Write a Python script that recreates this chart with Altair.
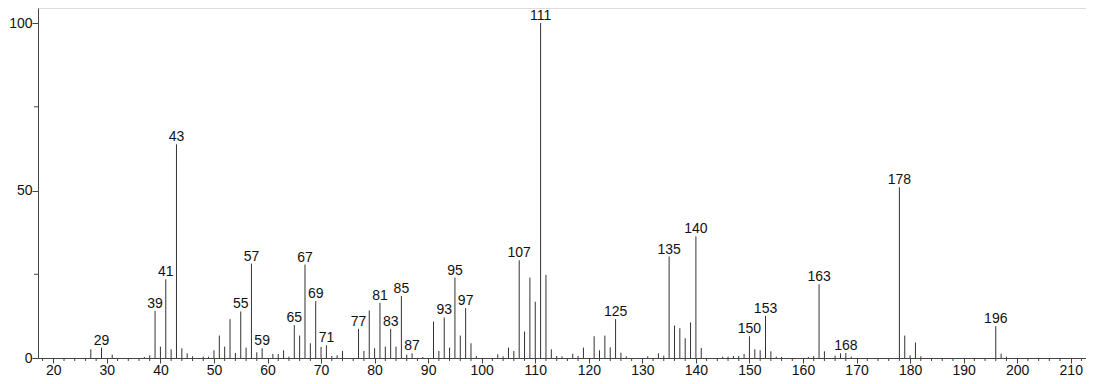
import altair as alt
import pandas as pd

# m/z values and relative intensities (%)
mz = [27, 29, 31, 37, 38, 39, 40, 41, 42, 43, 44, 45, 46, 48, 49, 50, 51, 52, 53, 54,
      55, 56, 57, 58, 59, 61, 62, 63, 64, 65, 66, 67, 68, 69, 70, 71, 72, 73, 74, 77,
      78, 79, 80, 81, 82, 83, 84, 85, 86, 87, 89, 91, 92, 93, 94, 95, 96, 97, 98, 99,
      103, 104, 105, 106, 107, 108, 109, 110, 111, 112, 113, 114, 115, 117, 118, 119,
      121, 122, 123, 124, 125, 126, 127, 131, 133, 134, 135, 136, 137, 138, 139, 140,
      141, 145, 146, 147, 148, 149, 150, 151, 152, 153, 154, 155, 156, 161, 162, 163,
      164, 166, 167, 168, 169, 178, 179, 180, 181, 182, 196, 197, 198]
intensity = [2.6, 3.1, 1.0, 0.3, 0.8, 14.1, 3.4, 23.5, 2.6, 63.8, 2.9, 1.4, 0.5, 0.4, 0.4,
             2.3, 6.7, 3.4, 11.6, 1.5, 13.9, 3.1, 28.2, 1.7, 2.9, 1.2, 1.2, 2.3, 0.4, 9.8,
             6.7, 27.9, 4.4, 17.0, 3.3, 3.8, 0.6, 0.8, 2.1, 8.7, 2.1, 14.2, 2.9, 16.5, 3.4,
             8.7, 3.4, 18.5, 1.0, 1.4, 0.3, 10.9, 2.1, 12.1, 3.1, 24.0, 6.7, 14.9, 4.4, 0.6,
             1.1, 0.5, 3.1, 2.1, 29.2, 7.9, 24.0, 16.8, 100.0, 24.8, 2.6, 0.6, 0.5, 1.3,
             0.6, 3.1, 6.5, 2.3, 6.7, 3.2, 11.6, 1.6, 0.5, 0.5, 1.4, 0.7, 30.3, 9.7, 8.9,
             5.9, 10.6, 36.3, 3.0, 0.4, 0.4, 0.6, 0.6, 1.2, 6.5, 2.6, 2.3, 12.6, 2.0, 0.4,
             0.3, 0.3, 0.6, 22.0, 2.0, 0.7, 1.4, 1.5, 0.4, 51.0, 6.7, 0.8, 4.6, 0.5, 9.5,
             1.3, 0.4]
labeled = [29, 39, 41, 43, 55, 57, 59, 65, 67, 69, 71, 77, 81, 83, 85, 87, 93, 95, 97,
           107, 111, 125, 135, 140, 150, 153, 163, 168, 178, 196]
x_major_ticks = [20, 30, 40, 50, 60, 70, 80, 90, 100, 110, 120, 130, 140, 150, 160,
                 170, 180, 190, 200, 210]
x_minor_ticks = [18, 22, 24, 26, 28, 32, 34, 36, 38, 42, 44, 46, 48, 52, 54, 56, 58, 62,
                 64, 66, 68, 72, 74, 76, 78, 82, 84, 86, 88, 92, 94, 96, 98, 102, 104, 106,
                 108, 112, 114, 116, 118, 122, 124, 126, 128, 132, 134, 136, 138, 142, 144,
                 146, 148, 152, 154, 156, 158, 162, 164, 166, 168, 172, 174, 176, 178, 182,
                 184, 186, 188, 192, 194, 196, 198, 202, 204, 206, 208, 212]
y_major_ticks = [0, 50, 100]
y_minor_ticks = [25, 75]

FONT = "Liberation Sans"
AX = "#444444"
BAR = "#333333"

W, H = 1048, 350
PAD_L, PAD_B = 30, 18

df = pd.DataFrame({"mz": mz, "intensity": intensity})
df["label"] = df["mz"].astype(str)
lab_df = df[df["mz"].isin(labeled)].reset_index(drop=True)

xs = alt.Scale(domain=[17.14, 212.85], nice=False, zero=False)
ys = alt.Scale(domain=[0, 104.5], nice=False)

xaxis = alt.Axis(values=x_major_ticks, title=None, tickSize=5, labelPadding=11,
                 labelBaseline="alphabetic", labelFontSize=14, labelFont=FONT,
                 labelColor="#111111", domainColor=AX, tickColor=AX, grid=False,
                 labelFlush=False, labelOverlap=False)
yaxis = alt.Axis(values=y_major_ticks, title=None, tickSize=6, labelPadding=0,
                 labelFontSize=14, labelFont=FONT, labelColor="#111111",
                 domainColor=AX, tickColor=AX, grid=False, labelFlush=False)

X = alt.X("mz:Q", scale=xs, axis=xaxis)
Y = alt.Y("intensity:Q", scale=ys, axis=yaxis)

bars = alt.Chart(df).mark_rule(color=BAR, strokeWidth=1).encode(
    x=X, y=Y, y2=alt.datum(0)
)

labels = alt.Chart(lab_df).mark_text(
    baseline="alphabetic", align="center", dy=-3, fontSize=14, font=FONT, color="#111111"
).encode(x=X, y=Y, text="label:N")

xminor = alt.Chart(pd.DataFrame({"mz": x_minor_ticks})).mark_rule(
    color=AX, strokeWidth=1
).encode(x=X, y=alt.value(H), y2=alt.value(H + 3))

yminor = alt.Chart(pd.DataFrame({"intensity": y_minor_ticks})).mark_rule(
    color=AX, strokeWidth=1
).encode(y=Y, x=alt.value(0), x2=alt.value(-4))

chart = alt.layer(bars, xminor, yminor, labels).properties(
    width=W, height=H,
    autosize="none",
    padding={"left": PAD_L, "top": 0, "right": 0, "bottom": PAD_B},
).configure_view(stroke=None).configure(background="white")

chart.save("out.html", embed_options={"renderer": "svg", "actions": False})
